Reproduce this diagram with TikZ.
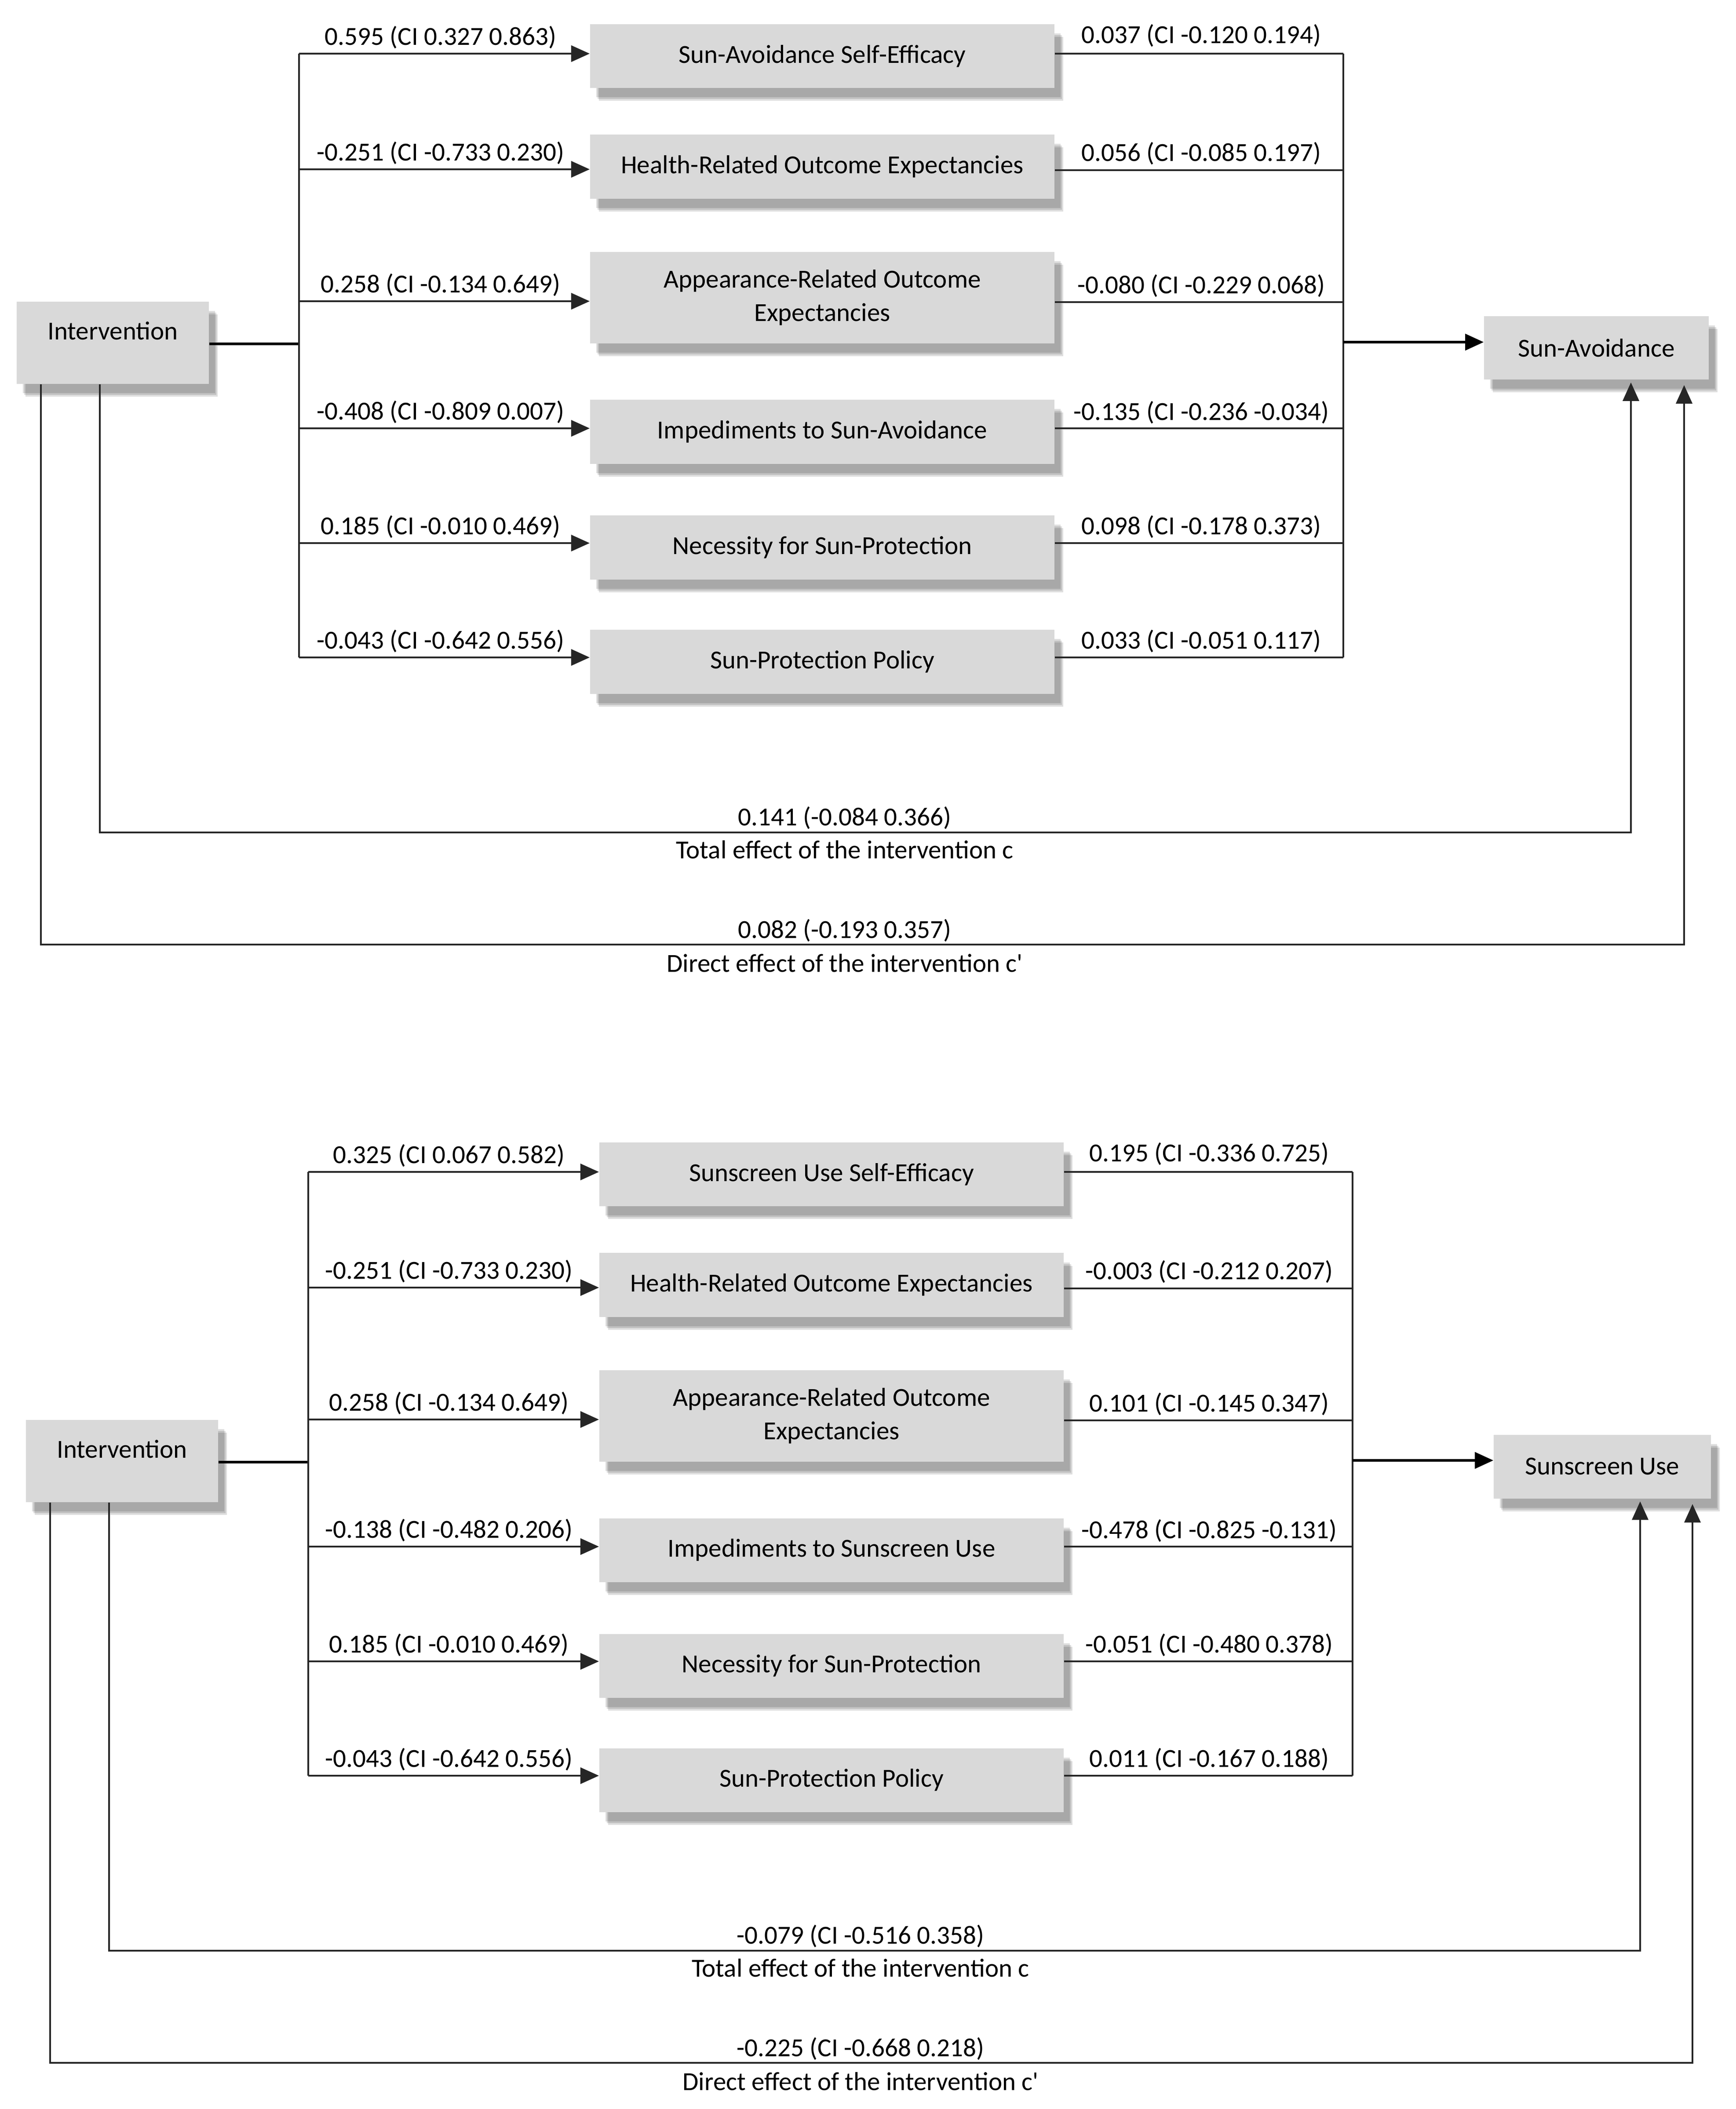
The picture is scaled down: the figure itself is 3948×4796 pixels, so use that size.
\documentclass[tikz,border=0pt]{standalone}
\usepackage{fontspec}
\setmainfont{Carlito}
\usetikzlibrary{arrows.meta,shadows}
\definecolor{boxgray}{HTML}{D9D9D9}
\definecolor{linegray}{HTML}{262626}
\begin{document}
\begin{tikzpicture}[x=0.01cm,y=-0.01cm,
  every node/.style={font=\fontsize{16.8pt}{21.6pt}\selectfont},
  box/.style={rectangle, fill=boxgray, draw=none, inner sep=0pt, align=center,
    drop shadow={shadow xshift=0.20cm, shadow yshift=-0.29cm, fill=black, opacity=0.13},
    drop shadow={shadow xshift=0.17cm, shadow yshift=-0.25cm, fill=black, opacity=0.13},
    drop shadow={shadow xshift=0.14cm, shadow yshift=-0.21cm, fill=black, opacity=0.13}},
  medbox/.style={box, minimum width=10.56cm, minimum height=1.45cm},
  conn/.style={line width=1.1pt, draw=linegray},
  thick conn/.style={line width=1.5pt, draw=black},
  arr/.style={conn, -{Triangle[length=0.42cm,width=0.37cm]}},
  lbl/.style={anchor=base, inner sep=0pt}]
\useasboundingbox (0,0) rectangle (3948,4796);

% ================= TOP DIAGRAM =================
\begin{scope}
\node[box, minimum width=4.37cm, minimum height=1.87cm, text height=0.86cm, text depth=1.01cm] (tI) at (256.5,779.5) {Intervention};
\node[medbox] (tm1) at (1870,127.5) {Sun-Avoidance Self-Efficacy};
\node[medbox] (tm2) at (1870,379) {Health-Related Outcome Expectancies};
\node[medbox, minimum height=2.08cm] (tm3) at (1870,677) {Appearance-Related Outcome\\Expectancies};
\node[medbox] (tm4) at (1870,982) {Impediments to Sun-Avoidance};
\node[medbox] (tm5) at (1870,1245) {Necessity for Sun-Protection};
\node[medbox] (tm6) at (1870,1505) {Sun-Protection Policy};
\node[box, minimum width=5.11cm, minimum height=1.44cm] (tO) at (3630.5,791) {Sun-Avoidance};

\coordinate (tl1) at (680,122);
\coordinate (tl2) at (680,385);
\coordinate (tl3) at (680,685);
\coordinate (tl4) at (680,974);
\coordinate (tl5) at (680,1235);
\coordinate (tl6) at (680,1495);
\coordinate (tlI) at (680,782);
\coordinate (tr1) at (3055,122);
\coordinate (tr2) at (3055,387);
\coordinate (tr3) at (3055,687);
\coordinate (tr4) at (3055,974);
\coordinate (tr5) at (3055,1235);
\coordinate (tr6) at (3055,1495);
\coordinate (trO) at (3055,778);

\draw[thick conn] (tI.east |- tlI) -- (tlI);
\draw[conn] (tl1) -- (tl6);
\foreach \i in {1,...,6} {
  \draw[arr] (tl\i) -- (tl\i -| tm\i.west);
  \draw[conn] (tm\i.east |- tr\i) -- (tr\i);
}
\draw[conn] (tr1) -- (tr6);
\draw[arr, line width=1.5pt, draw=black] (trO) -- (trO -| tO.west);

\node[lbl] (ta1) at (1002,102) {0.595 (CI 0.327 0.863)};
\node[lbl] (ta2) at (1002,365) {-0.251 (CI -0.733 0.230)};
\node[lbl] (ta3) at (1002,665) {0.258 (CI -0.134 0.649)};
\node[lbl] (ta4) at (1002,954) {-0.408 (CI -0.809 0.007)};
\node[lbl] (ta5) at (1002,1215) {0.185 (CI -0.010 0.469)};
\node[lbl] (ta6) at (1002,1475) {-0.043 (CI -0.642 0.556)};
\node[lbl] (tb1) at (2732,98) {0.037 (CI -0.120 0.194)};
\node[lbl] (tb2) at (2732,366) {0.056 (CI -0.085 0.197)};
\node[lbl] (tb3) at (2732,667) {-0.080 (CI -0.229 0.068)};
\node[lbl] (tb4) at (2732,955) {-0.135 (CI -0.236 -0.034)};
\node[lbl] (tb5) at (2732,1215) {0.098 (CI -0.178 0.373)};
\node[lbl] (tb6) at (2732,1475) {0.033 (CI -0.051 0.117)};

\coordinate (ttL) at (227,1893);
\coordinate (ttR) at (3709,1893);
\coordinate (tdL) at (93,2148);
\coordinate (tdR) at (3830,2148);
\draw[arr] (tI.south -| ttL) -- (ttL) -- (ttR) -- ([yshift=-0.06cm]ttR |- tO.south);
\draw[arr] (tI.south -| tdL) -- (tdL) -- (tdR) -- ([yshift=-0.12cm]tdR |- tO.south);
\node[lbl] (tt1) at (1921,1877) {0.141 (-0.084 0.366)};
\node[lbl] (tt2) at (1921,1952) {Total effect of the intervention c};
\node[lbl] (td1) at (1921,2133) {0.082 (-0.193 0.357)};
\node[lbl] (td2) at (1921,2210) {Direct effect of the intervention c\textquotesingle};
\end{scope}

% ================= BOTTOM DIAGRAM =================
\begin{scope}[shift={(21,2543)}]
\node[box, minimum width=4.37cm, minimum height=1.87cm, text height=0.86cm, text depth=1.01cm] (bI) at (256.5,779.5) {Intervention};
\node[medbox] (bm1) at (1870,127.5) {Sunscreen Use Self-Efficacy};
\node[medbox] (bm2) at (1870,379) {Health-Related Outcome Expectancies};
\node[medbox, minimum height=2.08cm] (bm3) at (1870,677) {Appearance-Related Outcome\\Expectancies};
\node[medbox] (bm4) at (1870,982) {Impediments to Sunscreen Use};
\node[medbox] (bm5) at (1870,1245) {Necessity for Sun-Protection};
\node[medbox] (bm6) at (1870,1505) {Sun-Protection Policy};
\node[box, minimum width=4.94cm, minimum height=1.45cm] (bO) at (3623,792) {Sunscreen Use};

\coordinate (bl1) at (680,122);
\coordinate (bl2) at (680,385);
\coordinate (bl3) at (680,685);
\coordinate (bl4) at (680,974);
\coordinate (bl5) at (680,1235);
\coordinate (bl6) at (680,1495);
\coordinate (blI) at (680,782);
\coordinate (br1) at (3055,122);
\coordinate (br2) at (3055,387);
\coordinate (br3) at (3055,687);
\coordinate (br4) at (3055,974);
\coordinate (br5) at (3055,1235);
\coordinate (br6) at (3055,1495);
\coordinate (brO) at (3055,778);

\draw[thick conn] (bI.east |- blI) -- (blI);
\draw[conn] (bl1) -- (bl6);
\foreach \i in {1,...,6} {
  \draw[arr] (bl\i) -- (bl\i -| bm\i.west);
  \draw[conn] (bm\i.east |- br\i) -- (br\i);
}
\draw[conn] (br1) -- (br6);
\draw[arr, line width=1.5pt, draw=black] (brO) -- (brO -| bO.west);

\node[lbl] (ba1) at (1000,102) {0.325 (CI 0.067 0.582)};
\node[lbl] (ba2) at (1000,365) {-0.251 (CI -0.733 0.230)};
\node[lbl] (ba3) at (1000,665) {0.258 (CI -0.134 0.649)};
\node[lbl] (ba4) at (1000,954) {-0.138 (CI -0.482 0.206)};
\node[lbl] (ba5) at (1000,1215) {0.185 (CI -0.010 0.469)};
\node[lbl] (ba6) at (1000,1475) {-0.043 (CI -0.642 0.556)};
\node[lbl] (bb1) at (2729,98) {0.195 (CI -0.336 0.725)};
\node[lbl] (bb2) at (2729,366) {-0.003 (CI -0.212 0.207)};
\node[lbl] (bb3) at (2729,667) {0.101 (CI -0.145 0.347)};
\node[lbl] (bb4) at (2729,955) {-0.478 (CI -0.825 -0.131)};
\node[lbl] (bb5) at (2729,1215) {-0.051 (CI -0.480 0.378)};
\node[lbl] (bb6) at (2729,1475) {0.011 (CI -0.167 0.188)};

\coordinate (btL) at (227,1893);
\coordinate (btR) at (3709,1893);
\coordinate (bdL) at (93,2148);
\coordinate (bdR) at (3828,2148);
\draw[arr] (bI.south -| btL) -- (btL) -- (btR) -- ([yshift=-0.06cm]btR |- bO.south);
\draw[arr] (bI.south -| bdL) -- (bdL) -- (bdR) -- ([yshift=-0.12cm]bdR |- bO.south);
\node[lbl] (bt1) at (1936,1877) {-0.079 (CI -0.516 0.358)};
\node[lbl] (bt2) at (1936,1952) {Total effect of the intervention c};
\node[lbl] (bd1) at (1936,2133) {-0.225 (CI -0.668 0.218)};
\node[lbl] (bd2) at (1936,2210) {Direct effect of the intervention c\textquotesingle};
\end{scope}
\end{tikzpicture}
\end{document}
